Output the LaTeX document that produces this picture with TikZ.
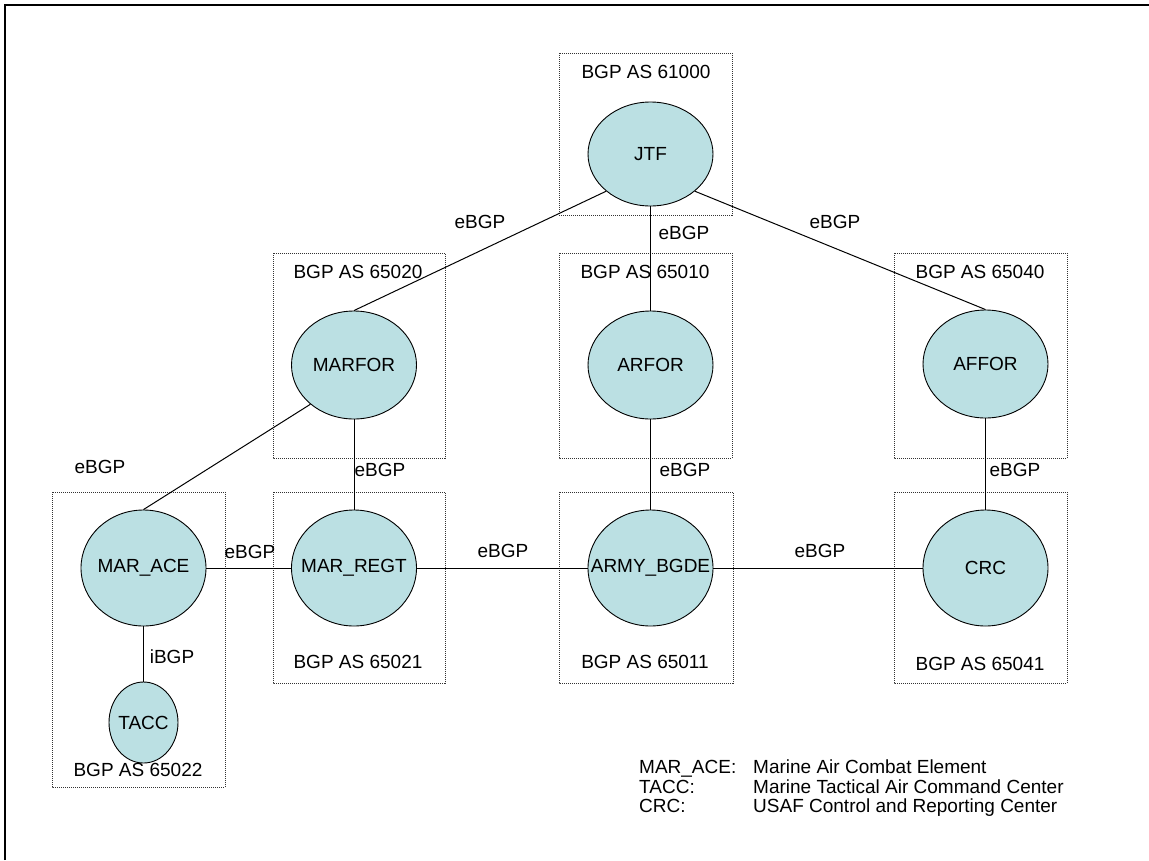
\documentclass[tikz,border=0pt]{standalone}
\usepackage{fontspec}
\setmainfont{Liberation Sans}
\usetikzlibrary{shapes.geometric}
\definecolor{bubfill}{RGB}{187,224,227}
\begin{document}
\begin{tikzpicture}[x=1pt,y=-1pt,
  every node/.style={font=\fontsize{19}{22}\selectfont},
  bub/.style={ellipse,draw=black,line width=0.9pt,fill=bubfill,inner sep=0pt},
  big/.style={bub,minimum width=125pt,minimum height=116pt},
  mid/.style={bub,minimum width=125pt,minimum height=108pt},
  asbox/.style={draw=black!80,line width=0.8pt,dash pattern=on 1pt off 1pt},
  link/.style={draw=black,line width=1pt},
  lbl/.style={inner sep=0pt,anchor=center}]
\useasboundingbox (0,0) rectangle (1149,860);
\fill[white] (0,0) rectangle (1149,860);
\coordinate (fa) at (5,860);
\coordinate (fb) at (5,5);
\coordinate (fc) at (1149,5);
\draw[line width=2pt] (fa) -- (fb) -- (fc);

% AS boxes
\draw[asbox] (559,53) rectangle (732,215);
\draw[asbox] (273,253) rectangle (445,458);
\draw[asbox] (559,253) rectangle (732,458);
\draw[asbox] (894,253) rectangle (1067,458);
\draw[asbox] (52,492) rectangle (225,787);
\draw[asbox] (273,492) rectangle (445,683);
\draw[asbox] (559,492) rectangle (733,683);
\draw[asbox] (894,492) rectangle (1067,683);

% box labels
\node[lbl] (l61000) at (646,72) {BGP AS 61000};
\node[lbl] (l65020) at (358,272) {BGP AS 65020};
\node[lbl] (l65010) at (645,272) {BGP AS 65010};
\node[lbl] (l65040) at (980,272) {BGP AS 65040};
\node[lbl] (l65021) at (358,662) {BGP AS 65021};
\node[lbl] (l65011) at (645,662) {BGP AS 65011};
\node[lbl] (l65041) at (980,664) {BGP AS 65041};
\node[lbl] (l65022) at (138,770) {BGP AS 65022};

% nodes
\node[bub,minimum width=125pt,minimum height=104pt,label=center:JTF] (jtf) at (650.5,154) {};
\node[mid,label=center:MARFOR] (marfor) at (354,365) {};
\node[mid,label=center:ARFOR] (arfor) at (650.5,365) {};
\node[mid,label=center:AFFOR] (affor) at (985.5,364) {};
\node[big,label=center:MAR\_ACE] (marace) at (143.5,568) {};
\node[big,label=center:MAR\_REGT] (marregt) at (354,568) {};
\node[big,label=center:ARMY\_BGDE] (army) at (650.5,568) {};
\node[big,label=center:CRC] (crc) at (985.5,568) {};
\node[bub,minimum width=69pt,minimum height=81pt,label=center:TACC] (tacc) at (143.5,722.5) {};

% links
\draw[link] (jtf.220) -- (marfor.north);
\draw[link] (jtf.south) -- (arfor.north);
\draw[link] (jtf.320) -- (affor.north);
\draw[link] (marfor.222) -- (marace.north);
\draw[link] (marfor.south) -- (marregt.north);
\draw[link] (arfor.south) -- (army.north);
\draw[link] (affor.south) -- (crc.north);
\draw[link] (marace.east) -- (marregt.west);
\draw[link] (marregt.east) -- (army.west);
\draw[link] (army.east) -- (crc.west);
\draw[link] (marace.south) -- (tacc.north);

% link labels
\node[lbl] (e1) at (480,222) {eBGP};
\node[lbl] (e2) at (684,233) {eBGP};
\node[lbl] (e3) at (835,222) {eBGP};
\node[lbl] (e4) at (100,467) {eBGP};
\node[lbl] (e5) at (380,470) {eBGP};
\node[lbl] (e6) at (685,470) {eBGP};
\node[lbl] (e7) at (1015,470) {eBGP};
\node[lbl] (e8) at (250,552) {eBGP};
\node[lbl] (e9) at (503,551) {eBGP};
\node[lbl] (e10) at (820,551) {eBGP};
\node[lbl] (i1) at (172,657) {iBGP};

% legend
\node[anchor=north west,inner sep=0pt,font=\fontsize{19}{18}\selectfont] (legend) at (639,760)
{\renewcommand\arraystretch{1}\begin{tabular}{@{}p{114pt}@{}l@{}}
MAR\_ACE: & Marine Air Combat Element\\
TACC: & Marine Tactical Air Command Center\\
CRC: & USAF Control and Reporting Center
\end{tabular}};
\end{tikzpicture}
\end{document}
